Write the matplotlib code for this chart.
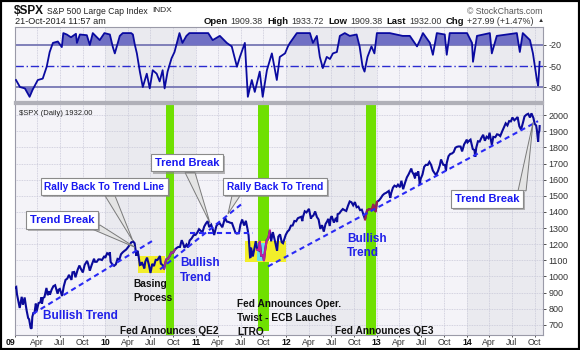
import matplotlib
matplotlib.use('Agg')
import matplotlib.pyplot as plt
import numpy as np
import pandas as pd
from matplotlib.patches import Polygon, Rectangle
import matplotlib.patheffects as pe

plt.rcParams['font.family'] = ['Liberation Sans', 'DejaVu Sans']

# ---------------- data ----------------
price_dates = [
 "2009-01-02","2009-01-06","2009-01-09","2009-01-15","2009-01-20","2009-01-23","2009-01-28","2009-02-02","2009-02-09","2009-02-13",
 "2009-02-17","2009-02-23","2009-02-27","2009-03-05","2009-03-09","2009-03-12","2009-03-17","2009-03-20","2009-03-26","2009-03-30",
 "2009-04-06","2009-04-14","2009-04-17","2009-04-20","2009-04-24","2009-04-30","2009-05-08","2009-05-13","2009-05-19","2009-05-22",
 "2009-05-29","2009-06-05","2009-06-12","2009-06-22","2009-06-26","2009-07-01","2009-07-10","2009-07-17","2009-07-24","2009-07-31",
 "2009-08-07","2009-08-17","2009-08-21","2009-08-28","2009-09-02","2009-09-11","2009-09-18","2009-09-25","2009-10-02","2009-10-09",
 "2009-10-19","2009-10-23","2009-10-30","2009-11-06","2009-11-16","2009-11-20","2009-11-27","2009-12-04","2009-12-11","2009-12-18",
 "2009-12-28","2009-12-31",
 "2010-01-08","2010-01-15","2010-01-19","2010-01-22","2010-01-29","2010-02-05","2010-02-12","2010-02-19","2010-02-26","2010-03-05",
 "2010-03-12","2010-03-19","2010-03-26","2010-04-05","2010-04-15","2010-04-23","2010-04-29","2010-05-06","2010-05-10","2010-05-14",
 "2010-05-20","2010-05-25","2010-05-28","2010-06-04","2010-06-07","2010-06-11","2010-06-18","2010-06-25","2010-07-02","2010-07-09",
 "2010-07-16","2010-07-23","2010-07-30","2010-08-09","2010-08-13","2010-08-20","2010-08-26","2010-09-03","2010-09-10","2010-09-17",
 "2010-09-24","2010-10-01","2010-10-08","2010-10-15","2010-10-22","2010-10-29","2010-11-05","2010-11-12","2010-11-16","2010-11-24",
 "2010-11-30","2010-12-07","2010-12-15","2010-12-23","2010-12-31",
 "2011-01-07","2011-01-14","2011-01-21","2011-01-28","2011-02-04","2011-02-11","2011-02-18","2011-02-24","2011-03-04","2011-03-10",
 "2011-03-16","2011-03-25","2011-03-31","2011-04-08","2011-04-18","2011-04-29","2011-05-06","2011-05-13","2011-05-20","2011-05-27",
 "2011-06-03","2011-06-10","2011-06-15","2011-06-24","2011-06-30","2011-07-07","2011-07-15","2011-07-22","2011-07-29","2011-08-02",
 "2011-08-08","2011-08-10","2011-08-12","2011-08-19","2011-08-26","2011-08-31","2011-09-06","2011-09-12","2011-09-16","2011-09-22",
 "2011-09-30","2011-10-03","2011-10-07","2011-10-14","2011-10-21","2011-10-27","2011-11-01","2011-11-08","2011-11-17","2011-11-25",
 "2011-11-30","2011-12-07","2011-12-14","2011-12-19","2011-12-30",
 "2012-01-06","2012-01-13","2012-01-20","2012-01-27","2012-02-03","2012-02-10","2012-02-17","2012-02-24","2012-03-02","2012-03-06",
 "2012-03-09","2012-03-16","2012-03-23","2012-04-02","2012-04-10","2012-04-13","2012-04-20","2012-04-27","2012-05-04","2012-05-11",
 "2012-05-18","2012-05-25","2012-06-01","2012-06-08","2012-06-15","2012-06-19","2012-06-25","2012-06-29","2012-07-03","2012-07-12",
 "2012-07-20","2012-07-25","2012-07-27","2012-08-03","2012-08-10","2012-08-17","2012-08-24","2012-08-31","2012-09-07","2012-09-14",
 "2012-09-21","2012-09-28","2012-10-05","2012-10-12","2012-10-19","2012-10-26","2012-11-02","2012-11-09","2012-11-15","2012-11-23",
 "2012-11-30","2012-12-07","2012-12-14","2012-12-18","2012-12-28",
 "2013-01-02","2013-01-11","2013-01-18","2013-01-25","2013-02-01","2013-02-08","2013-02-19","2013-02-25","2013-03-01","2013-03-08",
 "2013-03-14","2013-03-22","2013-03-28","2013-04-05","2013-04-11","2013-04-18","2013-04-26","2013-05-03","2013-05-10","2013-05-21",
 "2013-05-24","2013-05-31","2013-06-05","2013-06-07","2013-06-14","2013-06-18","2013-06-24","2013-06-28","2013-07-05","2013-07-12",
 "2013-07-19","2013-07-26","2013-08-02","2013-08-09","2013-08-16","2013-08-27","2013-08-30","2013-09-06","2013-09-13","2013-09-18",
 "2013-09-27","2013-10-04","2013-10-08","2013-10-11","2013-10-18","2013-10-25","2013-11-01","2013-11-08","2013-11-15","2013-11-22",
 "2013-11-29","2013-12-06","2013-12-12","2013-12-20","2013-12-31",
 "2014-01-03","2014-01-10","2014-01-15","2014-01-24","2014-01-31","2014-02-03","2014-02-07","2014-02-14","2014-02-21","2014-02-28",
 "2014-03-07","2014-03-14","2014-03-21","2014-03-28","2014-04-02","2014-04-11","2014-04-17","2014-04-25","2014-05-02","2014-05-09",
 "2014-05-15","2014-05-23","2014-05-30","2014-06-06","2014-06-13","2014-06-20","2014-06-27","2014-07-03","2014-07-11","2014-07-18",
 "2014-07-24","2014-07-31","2014-08-07","2014-08-15","2014-08-21","2014-08-29","2014-09-05","2014-09-12","2014-09-18","2014-09-26",
 "2014-10-01","2014-10-07","2014-10-10","2014-10-15","2014-10-17","2014-10-20","2014-10-21",
]
price_values = [
 931,935,890,843,805,832,874,825,870,827,
 789,743,735,682,677,750,778,768,832,787,
 835,841,870,832,866,873,929,884,909,887,
 919,940,946,893,918,923,879,940,979,987,
 1010,979,1026,1028,995,1042,1068,1044,1025,1071,
 1097,1079,1036,1069,1110,1091,1091,1106,1106,1102,
 1127,1115,
 1144,1136,1150,1091,1074,1066,1075,1109,1104,1138,
 1150,1159,1167,1187,1211,1217,1206,1128,1160,1136,
 1071,1074,1089,1064,1050,1092,1117,1076,1022,1078,
 1065,1103,1102,1127,1079,1071,1047,1105,1110,1125,
 1148,1147,1165,1176,1183,1183,1225,1199,1178,1198,
 1180,1223,1236,1256,1258,
 1272,1293,1283,1276,1310,1329,1343,1306,1321,1295,
 1257,1313,1326,1328,1305,1364,1340,1338,1333,1331,
 1300,1271,1266,1268,1321,1353,1316,1345,1292,1254,
 1119,1120,1179,1124,1177,1219,1166,1162,1216,1129,
 1131,1099,1155,1224,1238,1285,1218,1275,1216,1159,
 1247,1261,1212,1206,1258,
 1278,1289,1315,1316,1344,1342,1361,1366,1370,1343,
 1370,1404,1397,1419,1358,1370,1378,1403,1369,1353,
 1295,1318,1278,1325,1343,1357,1313,1362,1374,1334,
 1363,1337,1386,1391,1406,1418,1411,1406,1438,1465,
 1460,1441,1461,1429,1433,1411,1414,1380,1353,1409,
 1416,1418,1414,1446,1402,
 1462,1472,1486,1503,1513,1518,1530,1487,1518,1551,
 1563,1556,1569,1553,1593,1541,1582,1614,1633,1669,
 1650,1631,1608,1643,1626,1651,1573,1606,1632,1680,
 1692,1691,1710,1691,1656,1631,1633,1655,1688,1725,
 1692,1690,1656,1703,1745,1759,1762,1771,1798,1804,
 1806,1805,1775,1818,1848,
 1831,1842,1848,1790,1783,1741,1797,1838,1836,1859,
 1878,1841,1866,1857,1891,1815,1865,1863,1881,1878,
 1870,1900,1924,1949,1936,1963,1961,1985,1968,1978,
 1988,1931,1910,1955,1992,2003,2008,1985,2011,1982,
 1946,1935,1906,1835,1886,1904,1932,
]

osc_dates = [
 "2009-01-05","2009-01-21","2009-02-10","2009-03-01","2009-03-13","2009-04-03","2009-04-23","2009-05-09","2009-05-21","2009-06-03",
 "2009-06-23","2009-07-09","2009-07-15","2009-07-29","2009-08-15","2009-09-04","2009-09-08","2009-09-20","2009-10-18","2009-10-30",
 "2009-11-11","2009-12-09","2009-12-28","2010-01-19","2010-01-31","2010-02-08","2010-02-16","2010-02-28","2010-03-12","2010-04-15",
 "2010-04-22","2010-04-30","2010-05-08","2010-05-20","2010-06-01","2010-06-17","2010-06-29","2010-07-11","2010-07-27","2010-08-08",
 "2010-08-20","2010-08-28","2010-09-09","2010-09-25","2010-10-07","2010-10-27","2010-11-08","2010-11-24","2010-12-06","2011-02-20",
 "2011-03-10","2011-04-08","2011-05-06","2011-05-26","2011-06-16","2011-06-28","2011-07-18","2011-07-30","2011-08-15","2011-08-27",
 "2011-09-16","2011-09-28","2011-10-15","2011-11-04","2011-11-24","2011-12-06","2011-12-27","2012-01-08","2012-01-16","2012-02-13",
 "2012-04-06","2012-04-18","2012-05-04","2012-05-16","2012-05-28","2012-06-13","2012-06-26","2012-07-08","2012-07-24","2012-08-05",
 "2012-08-25","2012-09-14","2012-10-12","2012-10-24","2012-11-05","2012-11-13","2012-11-25","2012-12-11","2012-12-23","2013-01-02",
 "2013-02-23","2013-04-16","2013-05-15","2013-06-13","2013-06-25","2013-07-07","2013-08-04","2013-08-16","2013-09-01","2013-10-03",
 "2013-10-11","2013-10-23","2014-01-01","2014-01-21","2014-01-25","2014-02-10","2014-04-03","2014-04-11","2014-05-01","2014-07-21",
 "2014-08-02","2014-08-14","2014-09-12","2014-09-24","2014-10-10","2014-10-15","2014-10-21",
]
osc_values = [
 -70,-80,-82,-94,-84,-70,-68,-51,-30,-17,
 -15,-23,-3,-5,-9,-4,-17,-5,-6,-20,
 -3,-13,-3,-5,-23,-32,-22,-7,-3,-3,
 -5,-20,-32,-58,-80,-61,-82,-56,-61,-72,
 -56,-82,-58,-39,-30,-3,-17,-7,-3,-3,
 -13,-7,-17,-22,-51,-37,-17,-94,-70,-87,
 -58,-94,-56,-32,-70,-37,-32,-22,-17,-3,
 -3,-17,-7,-37,-53,-37,-40,-32,-30,-7,
 -3,-7,-5,-22,-51,-58,-37,-22,-32,-3,
 -3,-7,-7,-22,-13,-3,-17,-34,-3,-5,
 -34,-3,-3,-17,-44,-7,-3,-32,-7,-3,
 -30,-3,-13,-32,-70,-78,-44,
]

qe_starts = ["2010-09-01", "2011-09-10", "2012-11-20"]
qe_ends = ["2010-10-04", "2011-10-22", "2012-12-28"]
price_ticks = [700, 800, 900, 1000, 1100, 1200, 1300, 1400, 1500, 1600, 1700, 1800, 1900, 2000]
osc_ticks = [-20, -50, -80]


def fy(d):
    ts = pd.Timestamp(d)
    ndays = 366 if ts.is_leap_year else 365
    return ts.year + (ts.dayofyear - 1) / ndays


px = np.array([fy(d) for d in price_dates])
py = np.array(price_values, dtype=float)
ox = np.array([fy(d) for d in osc_dates])
oy = np.array(osc_values, dtype=float)
qs = [fy(d) for d in qe_starts]
qe = [fy(d) for d in qe_ends]

W, H = 580, 350
fig = plt.figure(figsize=(W / 100, H / 100), dpi=100)
fig.patch.set_facecolor('white')

X0, X1 = 2009.0, 2014.84
YB0, YB1 = 637.5, 2068.75   # bottom panel spans y px 104..335
ax1 = fig.add_axes([15 / W, 1 - 102 / H, 528 / W, 75 / H])
ax2 = fig.add_axes([15 / W, 1 - 335 / H, 528 / W, 231 / H])

band_a, band_b = '#f4f3f8', '#eaeaef'
grid_c = '#c8c8d8'

# quarter ticks
qt, ql = [], []
for yr in range(2009, 2015):
    for m, nm in zip([1, 4, 7, 10], ['', 'Apr', 'Jul', 'Oct']):
        qt.append(fy(f"{yr}-{m:02d}-01"))
        ql.append(f"{yr % 100:02d}" if m == 1 else nm)

for ax in (ax1, ax2):
    ax.set_xlim(X0, X1)
    for i, yr in enumerate(range(2009, 2015)):
        ax.axvspan(yr, yr + 1, color=band_a if i % 2 == 0 else band_b, zorder=0, lw=0)
    for q in qt:
        ax.axvline(q, color=grid_c, lw=0.6, ls=(0, (1, 1)), zorder=1)
    for s in ax.spines.values():
        s.set_color('#9a9aa8')
        s.set_linewidth(0.8)
    ax.yaxis.tick_right()
    ax.tick_params(axis='y', length=2, pad=2, labelsize=6.5, colors='#333333', width=0.6)

# ---------------- top oscillator ----------------
ax1.set_ylim(-101.4, 5.7)
ax1.axhline(-20, color='#7676b4', lw=1.3, zorder=2)
ax1.axhline(-80, color='#7676b4', lw=1.3, zorder=2)
ax1.axhline(-50, color='#2a2ad0', lw=1.0, ls=(0, (6, 2, 1, 2)), zorder=2)
ax1.fill_between(ox, oy, -20, where=oy > -20, interpolate=True, color='#7070c4', zorder=2, lw=0)
ax1.fill_between(ox, oy, -80, where=oy < -80, interpolate=True, color='#7070c4', zorder=2, lw=0)
ax1.plot(ox, oy, color='#0a0aa0', lw=1.3, zorder=3)
ax1.set_yticks(osc_ticks)
ax1.set_yticklabels([str(v) for v in osc_ticks])
ax1.set_xticks([])
ax1.spines['bottom'].set_linewidth(1.6)
ax1.spines['bottom'].set_color('#b0b0b8')

# ---------------- bottom price ----------------
ax2.set_ylim(YB0, YB1)
for v in price_ticks:
    ax2.axhline(v, color=grid_c, lw=0.6, ls=(0, (1, 1)), zorder=1)
ax2.set_yticks(price_ticks)
ax2.set_yticklabels([str(v) for v in price_ticks])
ax2.set_xticks(qt)
ax2.set_xticklabels(ql)
ax2.tick_params(axis='x', length=1.5, pad=1, labelsize=6.3, colors='#333333', width=0.6)
for lab, txt in zip(ax2.get_xticklabels(), ql):
    if txt.isdigit():
        lab.set_fontweight('bold')
        lab.set_color('#111111')
        if txt == '09':
            lab.set_horizontalalignment('right')
ax2.spines['top'].set_linewidth(1.6)
ax2.spines['top'].set_color('#b0b0b8')

green = '#6fe000'
bottoms = [YB0, 662, YB0]
for s, e, b in zip(qs, qe, bottoms):
    ax2.fill_between([s, e], b, YB1, color=green, zorder=2, lw=0)

# yellow / cyan highlight boxes
ax2.add_patch(Rectangle((2010.361, 1019), 0.298, 106, color='#f2ee2a', zorder=2.5, lw=0))
ax2.add_patch(Rectangle((2011.544, 1087), 0.454, 132, color='#f2ee2a', zorder=2.5, lw=0))
ax2.add_patch(Rectangle((2011.677, 1094), 0.088, 112, color='#66e0e8', zorder=2.6, lw=0))

ax2.plot(px, py, color='#0a0a9a', lw=1.5, zorder=4, solid_joinstyle='miter')
seg_cols = ['#a0308a', '#c0209c', '#a02050']
for s, e, c in zip(qs, qe, seg_cols):
    m = (px >= s - 0.02) & (px <= e + 0.02)
    ax2.plot(px[m], py[m], color=c, lw=1.5, zorder=4.5)

# trend lines
tl = dict(color='#2a2af5', lw=1.5, ls=(0, (2.5, 1.8)), zorder=5)
ax2.plot([2009.199, 2010.515], [769, 1219], **tl)
ax2.plot([2010.936, 2011.633], [1269, 1269], **tl)
ax2.plot([2010.604, 2011.522], [1044, 1456], **tl)
ax2.plot([2011.799, 2014.785], [1062.5, 1962.5], **tl)

# callout tails
tails = [
    [(2009.852, 1294), (2009.940, 1319), (2010.327, 1181)],
    [(2009.996, 1500), (2010.106, 1500), (2010.305, 1219)],
    [(2010.881, 1644), (2010.991, 1644), (2011.157, 1331)],
    [(2011.400, 1500), (2011.489, 1500), (2011.356, 1388)],
    [(2014.564, 1531), (2014.653, 1531), (2014.730, 1956)],
]
for tri in tails:
    ax2.add_patch(Polygon(tri, closed=True, fc='#e4e4e4', ec='#7a7a7a', lw=0.7, zorder=6))

callouts = [
    ("Trend Break", 2009.520, 1350),
    ("Rally Back To Trend Line", 2009.985, 1556),
    ("Trend Break", 2010.903, 1706),
    ("Rally Back To Trend", 2011.876, 1556),
    ("Trend Break", 2014.221, 1481),
]
for txt, x, y in callouts:
    t = ax2.text(x, y, txt, ha='center', va='center', fontsize=8 if txt == 'Trend Break' else 7.3,
                 fontweight='bold', color='#1818f0', zorder=7,
                 bbox=dict(boxstyle='square,pad=0.35', fc='white', ec='#8a8a8a', lw=0.8))
    t.get_bbox_patch().set_path_effects([pe.withSimplePatchShadow(offset=(1.5, -1.5), shadow_rgbFace='#888888', alpha=0.6)])

blue_txt = dict(fontweight='bold', color='#2020e8', zorder=7, fontsize=8.5)
ax2.text(2009.719, 756, "Bullish Trend", ha='center', va='center', **blue_txt)
ax2.text(2010.825, 1037.5, "Bullish\nTrend", ha='left', va='center', linespacing=1.25, **blue_txt)
ax2.text(2012.673, 1187.5, "Bullish\nTrend", ha='left', va='center', linespacing=1.25, **blue_txt)

blk = dict(fontweight='bold', color='#111111', zorder=7, fontsize=7.3)
ax2.text(2010.305, 912.5, "Basing\nProcess", ha='left', va='center', linespacing=1.5, **blk)
ax2.text(2010.161, 662, "Fed Announces QE2", ha='left', va='center', **blk)
ax2.text(2011.456, 745, "Fed Announces Oper.\nTwist - ECB Lauches\nLTRO", ha='left', va='center',
         linespacing=1.5, **blk)
ax2.text(2012.540, 662, "Fed Announces QE3", ha='left', va='center', **blk)

ax2.text(0.008, 0.975, "$SPX (Daily) 1932.00", transform=ax2.transAxes, fontsize=5.5,
         color='#222222', ha='left', va='top', zorder=8)

# ---------------- header ----------------
fig.text(14 / W, 1 - 11 / H, "$SPX", fontsize=8.5, fontweight='bold', color='#111111', va='center')
fig.text(47 / W, 1 - 11 / H, "S&P 500 Large Cap Index", fontsize=6.2, color='#222222', va='center')
fig.text(152 / W, 1 - 11 / H, "INDX", fontsize=6, color='#222222', va='center')
fig.text(15 / W, 1 - 21 / H, "21-Oct-2014 11:57 am", fontsize=6.6, color='#222222', va='center')
fig.text(542 / W, 1 - 11 / H, "© StockCharts.com", fontsize=6.3, color='#555555', va='center', ha='right')

# header quote line, chained right-to-left from the right edge
pieces = [("Open", 'bold'), ("1909.38", 'normal'), ("High", 'bold'), ("1933.72", 'normal'),
          ("Low", 'bold'), ("1909.38", 'normal'), ("Last", 'bold'), ("1932.00", 'normal'),
          ("Chg", 'bold'), ("+27.99 (+1.47%)", 'normal'), ("▲", 'normal')]
nxt = fig.text(544 / W, 1 - 21 / H, "▲", fontsize=4.5, color='#333333', va='center', ha='right')
for i, (txt, w) in enumerate(reversed(pieces[:-1])):
    gap = 3.2 if w == 'normal' else 2.0
    fs = 6.4 if w == 'normal' else 6.8
    nxt = ax1.annotate(txt, xy=(0, 0.5), xycoords=nxt, xytext=(-gap, 0), textcoords='offset points',
                       fontsize=fs, fontweight=w, color='#111111' if w == 'bold' else '#333333',
                       va='center', ha='right', annotation_clip=False)

# outer black frame
fig.add_artist(Rectangle((0, 0), 1, 1, transform=fig.transFigure, fill=False, ec='black', lw=3))

fig.savefig('out.png', dpi=100)
